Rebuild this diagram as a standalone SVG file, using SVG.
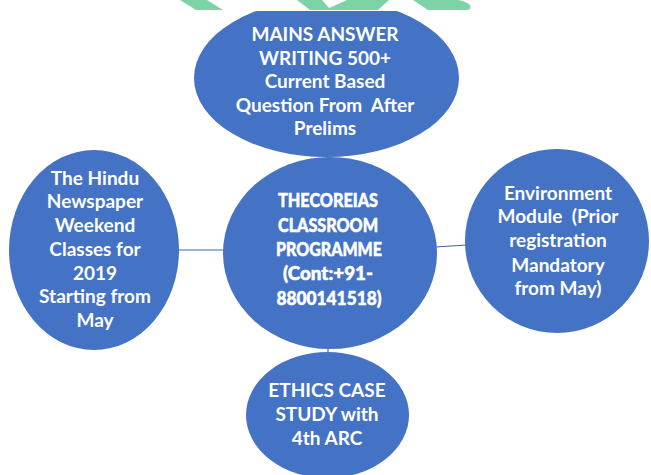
<svg xmlns="http://www.w3.org/2000/svg" width="651" height="475" viewBox="0 0 651 475">
<style>
.node{fill:#4472C4;}
.t{fill:#ffffff;font-family:Lato,"Open Sans","Liberation Sans",sans-serif;font-weight:bold;font-size:19px;text-anchor:middle;}
.c{fill:#ffffff;stroke:#ffffff;stroke-width:0.5;font-family:Lato,"Open Sans","Liberation Sans",sans-serif;font-weight:900;font-size:18px;text-anchor:middle;}
.edge{stroke:#3E66B0;stroke-width:1.2;fill:none;}
.wm{fill:#7DD3A5;}
</style>
<rect width="651" height="475" fill="#ffffff"/>
<g id="connectors">
<line class="edge" x1="176" y1="250" x2="226" y2="250"/>
<line class="edge" x1="435" y1="247" x2="467" y2="245"/>
<line class="edge" x1="328" y1="345" x2="328" y2="356"/>
<line class="edge" x1="327" y1="154" x2="328" y2="160"/>
</g>
<g id="node-top">
<ellipse class="node" cx="326.5" cy="78" rx="132.5" ry="79"/>
<rect x="0" y="0" width="651" height="11" fill="#ffffff"/>
<text class="t" x="325" y="41">MAINS ANSWER</text>
<text class="t" x="325" y="65">WRITING 500+</text>
<text class="t" x="325" y="88">Current Based</text>
<text class="t" x="325" y="112" xml:space="preserve">Question From  After</text>
<text class="t" x="325" y="135">Prelims</text>
</g>
<g id="watermark">
<polygon class="wm" points="180,0 207,0 223,10 196,10"/>
<polygon class="wm" points="297,0 322,0 329,8 347,0 389,0 378,10 310,10"/>
<path class="wm" d="M413,0 L458,0 Q473,3 470,9 L467,10 L428,10 Z"/>
</g>
<g id="node-left">
<ellipse class="node" cx="94" cy="250" rx="85" ry="100"/>
<text class="t" x="95" y="185">The Hindu</text>
<text class="t" x="95" y="208">Newspaper</text>
<text class="t" x="95" y="232">Weekend</text>
<text class="t" x="95" y="256">Classes for</text>
<text class="t" x="95" y="280">2019</text>
<text class="t" x="95" y="303">Starting from</text>
<text class="t" x="95" y="327">May</text>
</g>
<g id="node-center">
<ellipse class="node" cx="330" cy="253" rx="107" ry="96"/>
<text class="c" x="328" y="207" textLength="100" lengthAdjust="spacingAndGlyphs">THECOREIAS</text>
<text class="c" x="328" y="232" textLength="100" lengthAdjust="spacingAndGlyphs">CLASSROOM</text>
<text class="c" x="329" y="256" textLength="106" lengthAdjust="spacingAndGlyphs">PROGRAMME</text>
<text class="c" x="328" y="280" textLength="90" lengthAdjust="spacingAndGlyphs">(Cont:+91-</text>
<text class="c" x="329" y="305" textLength="105" lengthAdjust="spacingAndGlyphs">8800141518)</text>
</g>
<g id="node-right">
<ellipse class="node" cx="557" cy="241" rx="92" ry="92"/>
<text class="t" x="558" y="200">Environment</text>
<text class="t" x="558" y="223" xml:space="preserve">Module  (Prior</text>
<text class="t" x="558" y="247">registration</text>
<text class="t" x="558" y="272">Mandatory</text>
<text class="t" x="558" y="295">from May)</text>
</g>
<g id="node-bottom">
<ellipse class="node" cx="327.5" cy="415" rx="81.5" ry="63"/>
<text class="t" x="327" y="397">ETHICS CASE</text>
<text class="t" x="327" y="421">STUDY with</text>
<text class="t" x="327" y="445">4th ARC</text>
</g>
</svg>
